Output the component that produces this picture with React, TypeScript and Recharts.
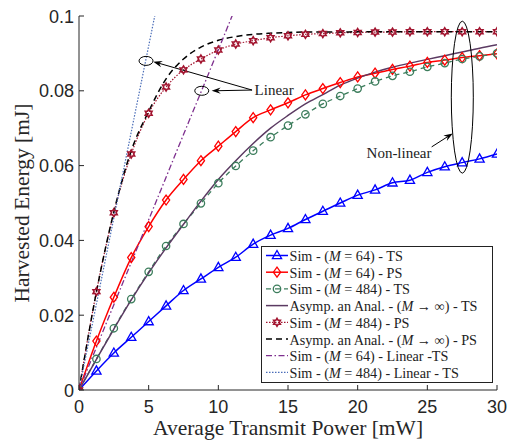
import { LineChart, Line, XAxis, YAxis, ReferenceDot, ReferenceLine } from "recharts";

// transmit power grid [mW]
const power = [0, 1.25, 2.5, 3.75, 5, 6.25, 7.5, 8.75, 10, 11.25, 12.5, 13.75, 15, 16.25, 17.5, 18.75, 20, 21.25, 22.5, 23.75, 25, 26.25, 27.5, 28.75, 30];

// harvested energy [mJ]
const simTs64 = [0, 0.0051, 0.0099, 0.0141, 0.0183, 0.0225, 0.0266, 0.0297, 0.0328, 0.0355, 0.039, 0.0414, 0.0432, 0.0456, 0.0478, 0.05, 0.0521, 0.0535, 0.0554, 0.0561, 0.0582, 0.0597, 0.0608, 0.0618, 0.0631];
const simPs64 = [0, 0.0131, 0.0248, 0.0354, 0.0437, 0.0508, 0.0563, 0.0613, 0.0652, 0.0691, 0.0728, 0.0749, 0.0768, 0.0789, 0.0806, 0.0822, 0.0837, 0.0847, 0.0857, 0.0866, 0.0876, 0.0882, 0.0889, 0.0894, 0.0899];
const simTs484 = [0, 0.0083, 0.0165, 0.0243, 0.0316, 0.0385, 0.0444, 0.0499, 0.0553, 0.0599, 0.064, 0.0676, 0.0707, 0.0737, 0.0765, 0.0786, 0.0806, 0.0825, 0.084, 0.0851, 0.0864, 0.0874, 0.0885, 0.0892, 0.09];
const asympTs = [0, 0.0082, 0.0163, 0.0241, 0.0313, 0.038, 0.0443, 0.0505, 0.0563, 0.0613, 0.0659, 0.07, 0.0734, 0.0765, 0.079, 0.0815, 0.0834, 0.085, 0.0863, 0.0874, 0.0884, 0.0894, 0.0904, 0.0914, 0.0923];
const simPs484 = [0, 0.0263, 0.0474, 0.0631, 0.074, 0.081, 0.0856, 0.0885, 0.0909, 0.0925, 0.0934, 0.0942, 0.0947, 0.0951, 0.0953, 0.0955, 0.0956, 0.0957, 0.0957, 0.0958, 0.0958, 0.0958, 0.0958, 0.0958, 0.0958];
const asympPs = [0, 0.0262, 0.0476, 0.064, 0.0745, 0.0832, 0.0885, 0.0917, 0.0935, 0.0945, 0.0951, 0.0954, 0.0956, 0.0957, 0.0957, 0.0957, 0.0958, 0.0958, 0.0958, 0.0958, 0.0958, 0.0958, 0.0958, 0.0958, 0.0958];
const linearTs64 = [0, 0.0114, 0.0228, 0.0341, 0.0455, 0.0569, 0.0683, 0.0796, 0.091, 0.1024];
const linearTs484 = [0, 0.023, 0.046, 0.069, 0.092, 0.115];

const xTicks = [0, 5, 10, 15, 20, 25, 30];
const yTicks = [0, 0.02, 0.04, 0.06, 0.08, 0.1];

const data = power.map((p, i) => ({
  p,
  simTs64: simTs64[i],
  simPs64: simPs64[i],
  simTs484: simTs484[i],
  asympTs: asympTs[i],
  simPs484: simPs484[i],
  asympPs: asympPs[i],
  linearTs64: linearTs64[i],
  linearTs484: linearTs484[i],
}));

const AXIS = "#262626";
const SANS = "'Liberation Sans', Arial, sans-serif";
const SERIF = "'Liberation Serif', 'Times New Roman', serif";

type Marker = "tri" | "dia" | "circ" | "hex" | null;

const series: { key: string; color: string; width: number; dash?: string; marker: Marker; label: any }[] = [
  { key: "simTs64", color: "#0000ff", width: 1.5, marker: "tri", label: ["Sim - (", "M", " = 64) - TS"] },
  { key: "simPs64", color: "#ff0000", width: 1.5, marker: "dia", label: ["Sim - (", "M", " = 64) - PS"] },
  { key: "simTs484", color: "#3c7d5c", width: 1.3, dash: "5 4", marker: "circ", label: ["Sim - (", "M", " = 484) - TS"] },
  { key: "asympTs", color: "#5b3a62", width: 1.5, marker: null, label: ["Asymp. an Anal. - (", "M", " \u2192 \u221e) - TS"] },
  { key: "simPs484", color: "#a2142f", width: 1.2, dash: "1.5 1.5", marker: "hex", label: ["Sim - (", "M", " = 484) - PS"] },
  { key: "asympPs", color: "#000000", width: 1.5, dash: "6 4", marker: null, label: ["Asymp. an Anal. - (", "M", " \u2192 \u221e) - PS"] },
  { key: "linearTs64", color: "#7e2f8e", width: 1.3, dash: "6 2.5 1.5 2.5", marker: null, label: ["Sim - (", "M", " = 64) - Linear -TS"] },
  { key: "linearTs484", color: "#4a6db8", width: 1.2, dash: "1.5 1.5", marker: null, label: ["Sim - (", "M", " = 484) - Linear - TS"] },
];

function markerShape(kind: Marker, color: string, cx: number, cy: number, key?: any) {
  if (kind === "tri") {
    return <polygon key={key} points={`${cx},${cy - 5} ${cx + 4.6},${cy + 3.2} ${cx - 4.6},${cy + 3.2}`} fill="none" stroke={color} strokeWidth={1.3} />;
  }
  if (kind === "dia") {
    return <polygon key={key} points={`${cx},${cy - 5} ${cx + 3.6},${cy} ${cx},${cy + 5} ${cx - 3.6},${cy}`} fill="none" stroke={color} strokeWidth={1.3} />;
  }
  if (kind === "circ") {
    return <circle key={key} cx={cx} cy={cy} r={3.7} fill="none" stroke={color} strokeWidth={1.3} />;
  }
  if (kind === "hex") {
    const pts: string[] = [];
    for (let k = 0; k < 12; k++) {
      const r = k % 2 === 0 ? 3.9 : 2.3;
      const a = -Math.PI / 2 + (k * Math.PI) / 6;
      pts.push(`${cx + r * Math.cos(a)},${cy + r * Math.sin(a)}`);
    }
    return <polygon key={key} points={pts.join(" ")} fill="none" stroke={color} strokeWidth={1.6} />;
  }
  return null;
}

const BottomTick = (props: any) => {
  const { x, y, payload } = props;
  return (
    <g>
      <line x1={x} y1={y} x2={x} y2={y - 5} stroke={AXIS} />
      <text x={x} y={y + 23} textAnchor="middle" fontFamily={SANS} fontSize={18} fill={AXIS}>
        {payload.value}
      </text>
    </g>
  );
};

const LeftTick = (props: any) => {
  const { x, y, payload } = props;
  return (
    <g>
      <line x1={x} y1={y} x2={x + 5} y2={y} stroke={AXIS} />
      <text x={x - 5} y={y + 6.5} textAnchor="end" fontFamily={SANS} fontSize={18} fill={AXIS}>
        {payload.value}
      </text>
    </g>
  );
};

const TopTick = (props: any) => {
  const { x, y } = props;
  return <line x1={x} y1={y} x2={x} y2={y + 5} stroke={AXIS} />;
};

const RightTick = (props: any) => {
  const { x, y } = props;
  return <line x1={x} y1={y} x2={x - 5} y2={y} stroke={AXIS} />;
};

const Arrow = (props: any) => {
  const { x1, y1, x2, y2 } = props;
  const ang = Math.atan2(y2 - y1, x2 - x1);
  const L = 9;
  const W = 3.2;
  const bx = x2 - L * Math.cos(ang);
  const by = y2 - L * Math.sin(ang);
  const px = -Math.sin(ang) * W;
  const py = Math.cos(ang) * W;
  const nx = x2 - 6 * Math.cos(ang);
  const ny = y2 - 6 * Math.sin(ang);
  return (
    <g>
      <line x1={x1} y1={y1} x2={nx} y2={ny} stroke="#000" strokeWidth={1} />
      <polygon points={`${x2},${y2} ${bx + px},${by + py} ${nx},${ny} ${bx - px},${by - py}`} fill="#000" />
    </g>
  );
};

const ellipse = (rx: number, ry: number) => (p: any) => (
  <ellipse cx={p.cx} cy={p.cy} rx={rx} ry={ry} fill="none" stroke="#000" strokeWidth={1} />
);

const note = (text: string, anchor: "start" | "middle") => (p: any) => (
  <text x={p.cx} y={p.cy} textAnchor={anchor} dominantBaseline="central" fontFamily={SERIF} fontSize={15} fill="#222">
    {text}
  </text>
);

function LegendBox() {
  const rowH = 16.7;
  return (
    <svg width={232} height={137} style={{ position: "absolute", left: 261, top: 246 }}>
      <rect x={0.5} y={0.5} width={231} height={136} fill="#fff" stroke="#222" strokeWidth={1} />
      {series.map((s, i) => {
        const cy = 9.5 + i * rowH;
        return (
          <g key={s.key}>
            <line x1={5} x2={27} y1={cy} y2={cy} stroke={s.color} strokeWidth={s.width} strokeDasharray={s.dash} />
            {markerShape(s.marker, s.color, 16, cy)}
            <text x={28.5} y={cy + 0.5} dominantBaseline="central" fontFamily={SERIF} fontSize={14.2} fill="#222">
              {s.label[0]}
              <tspan fontStyle="italic">{s.label[1]}</tspan>
              {s.label[2]}
            </text>
          </g>
        );
      })}
    </svg>
  );
}

export default function App() {
  return (
    <div style={{ position: "absolute", left: 0, top: 0, width: 510, height: 441, background: "#fff" }}>
      <LineChart width={510} height={441} data={data} margin={{ top: 16, right: 13, bottom: 0, left: 0 }}>
        <XAxis
          dataKey="p"
          type="number"
          domain={[0, 30]}
          ticks={xTicks}
          interval={0}
          allowDataOverflow
          height={51}
          tickSize={0}
          tickMargin={0}
          tickLine={false}
          axisLine={{ stroke: AXIS }}
          tick={BottomTick}
          label={{
            value: "Average Transmit Power [mW]",
            position: "insideBottom",
            offset: 6,
            style: { fontFamily: SERIF, fontSize: 21.5, fill: AXIS },
          }}
        />
        <XAxis
          xAxisId="top"
          orientation="top"
          dataKey="p"
          type="number"
          domain={[0, 30]}
          ticks={xTicks}
          interval={0}
          allowDataOverflow
          height={0}
          tickSize={0}
          tickMargin={0}
          tickLine={false}
          axisLine={{ stroke: AXIS }}
          tick={TopTick}
        />
        <YAxis
          type="number"
          domain={[0, 0.1]}
          ticks={yTicks}
          interval={0}
          allowDataOverflow
          width={79}
          tickSize={0}
          tickMargin={0}
          tickLine={false}
          axisLine={{ stroke: AXIS }}
          tick={LeftTick}
          label={{
            content: (p: any) => {
              const vb = p.viewBox || { x: 0, y: 16, width: 79, height: 374 };
              const cx = vb.x + 22;
              const cy = vb.y + vb.height / 2;
              return (
                <text
                  transform={`translate(${cx},${cy}) rotate(-90)`}
                  textAnchor="middle"
                  dominantBaseline="central"
                  fontFamily={SERIF}
                  fontSize={21.5}
                  fill={AXIS}
                >
                  Harvested Energy [mJ]
                </text>
              );
            },
          }}
        />
        <YAxis
          yAxisId="right"
          orientation="right"
          type="number"
          domain={[0, 0.1]}
          ticks={yTicks}
          interval={0}
          allowDataOverflow
          width={0}
          tickSize={0}
          tickMargin={0}
          tickLine={false}
          axisLine={{ stroke: AXIS }}
          tick={RightTick}
        />

        {series.map((s) => (
          <Line
            key={s.key}
            dataKey={s.key}
            type="monotone"
            stroke={s.color}
            strokeWidth={s.width}
            strokeDasharray={s.dash}
            isAnimationActive={false}
            connectNulls={false}
            activeDot={false}
            dot={
              s.marker
                ? (p: any) =>
                    p.cy == null || p.cx == null ? (
                      <g key={`${s.key}-${p.index}`} />
                    ) : (
                      markerShape(s.marker, s.color, p.cx, p.cy, `${s.key}-${p.index}`)
                    )
                : false
            }
          />
        ))}

        {/* annotations */}
        <ReferenceDot x={4.81} y={0.088} shape={ellipse(7, 4.5)} />
        <ReferenceDot x={8.81} y={0.08} shape={ellipse(7, 4.5)} />
        <ReferenceLine segment={[{ x: 12.42, y: 0.0802 }, { x: 5.33, y: 0.0878 }]} shape={Arrow} />
        <ReferenceLine segment={[{ x: 12.42, y: 0.0802 }, { x: 9.52, y: 0.08 }]} shape={Arrow} />
        <ReferenceDot x={12.6} y={0.0802} shape={note("Linear", "start")} />
        <ReferenceDot x={27.51} y={0.0783} shape={ellipse(11, 76)} />
        <ReferenceLine segment={[{ x: 25.31, y: 0.065 }, { x: 26.82, y: 0.0686 }]} shape={Arrow} />
        <ReferenceDot x={22.97} y={0.0634} shape={note("Non-linear", "middle")} />
      </LineChart>
      <LegendBox />
    </div>
  );
}
